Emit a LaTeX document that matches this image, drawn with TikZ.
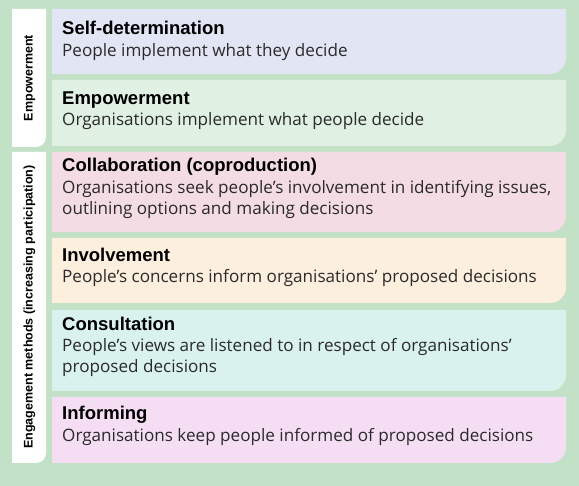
\documentclass[tikz,border=0pt]{standalone}
\usepackage{fontspec}
\setmainfont{Open Sans}
\newfontfamily\titlefont{Liberation Sans}
\definecolor{bggreen}{HTML}{C3E1C7}
\definecolor{rowA}{HTML}{E2E5F3}
\definecolor{rowB}{HTML}{E0F0E3}
\definecolor{rowC}{HTML}{F4DCE5}
\definecolor{rowD}{HTML}{FDEFDE}
\definecolor{rowE}{HTML}{DAF2EE}
\definecolor{rowF}{HTML}{F5DEF3}
\definecolor{bodytext}{HTML}{2A2A2A}
\tikzset{
  rowtitle/.style={anchor=base west, inner sep=0pt, font=\titlefont\bfseries\fontsize{18.5}{20}\selectfont, text=black},
  rowbody/.style={anchor=base west, inner sep=0pt, align=left, font=\fontsize{17.1}{21}\selectfont, text=bodytext},
  tablabel/.style={rotate=90, inner sep=0pt, font=\titlefont\bfseries\fontsize{12.5}{14}\selectfont, text=black},
}
% row box: fill colour, top y, bottom y (negative numbers)
\newcommand{\rowbox}[3]{\fill[#1] (52,#2) -- (566,#2) -- (566,#3+16) arc (0:-90:16) -- (52,#3) -- cycle;}
\newcommand{\tabbox}[2]{\fill[white] (12,#1) -- (46,#1) -- (46,#2+10) arc (0:-90:10) -- (12,#2) -- cycle;}
\begin{document}
\begin{tikzpicture}[x=1pt,y=1pt]
\fill[bggreen] (0,0) rectangle (579,-486);
\useasboundingbox (0,0) rectangle (579,-486);
% side tabs
\tabbox{-9}{-147}
\tabbox{-152}{-463}
\node[tablabel] (tabA) at (29.5,-78) {Empowerment};
\node[tablabel] (tabB) at (29.5,-307) {Engagement methods (increasing participation)};
% rows
\rowbox{rowA}{-9}{-74}
\rowbox{rowB}{-80}{-146}
\rowbox{rowC}{-152}{-232}
\rowbox{rowD}{-238}{-303}
\rowbox{rowE}{-310}{-391}
\rowbox{rowF}{-397}{-463}
\node[rowtitle] (t1) at (62,-35) {Self-determination};
\node[rowbody] (b1) at (62,-56.7) {People implement what they decide};
\node[rowtitle] (t2) at (62,-105) {Empowerment};
\node[rowbody] (b2) at (62,-125.5) {Organisations implement what people decide};
\node[rowtitle] (t3) at (62,-171.7) {Collaboration (coproduction)};
\node[rowbody] (b3) at (62,-214.3) {Organisations seek people’s involvement in identifying issues,\\outlining options and making decisions};
\node[rowtitle] (t4) at (62,-261.7) {Involvement};
\node[rowbody] (b4) at (62,-282.7) {People’s concerns inform organisations’ proposed decisions};
\node[rowtitle] (t5) at (62,-330.7) {Consultation};
\node[rowbody] (b5) at (62,-372.7) {People’s views are listened to in respect of organisations’\\proposed decisions};
\node[rowtitle] (t6) at (62,-420) {Informing};
\node[rowbody] (b6) at (62,-441.7) {Organisations keep people informed of proposed decisions};
\end{tikzpicture}
\end{document}
